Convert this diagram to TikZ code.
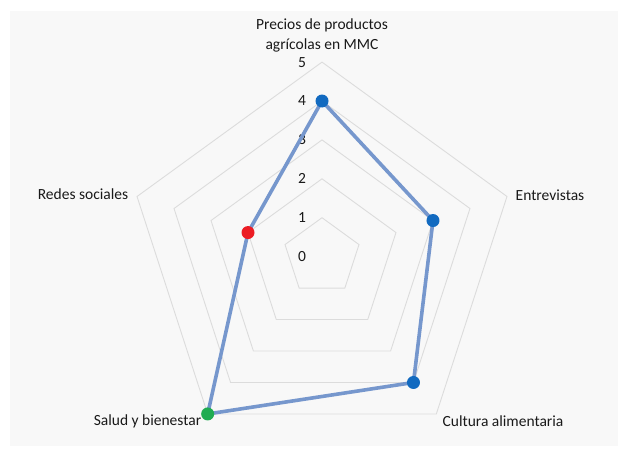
\documentclass[tikz,border=0pt]{standalone}
\usepackage{fontspec}
\setmainfont{Carlito}
\definecolor{gridgray}{RGB}{220,220,220}
\definecolor{seriesline}{RGB}{118,151,205}
\definecolor{markblue}{RGB}{18,106,192}
\definecolor{markred}{RGB}{236,28,36}
\definecolor{markgreen}{RGB}{32,172,82}
\definecolor{framegray}{RGB}{248,248,248}
\definecolor{labeltext}{RGB}{25,25,25}
\begin{document}
\begin{tikzpicture}[x=1pt,y=1pt,
  lbl/.style={font=\fontsize{15.5}{20}\selectfont, text=labeltext, inner sep=0pt},
  gridline/.style={draw=gridgray, line width=0.9pt, line join=miter},
  serieslink/.style={draw=seriesline, line width=3.6pt, line join=round},
  marker/.style={circle, fill=#1, minimum size=13pt, inner sep=0pt}]
\useasboundingbox (0,0) rectangle (623,-452);
\fill[white] (0,0) rectangle (623,-452);
\fill[framegray] (10,-11) rectangle (618,-446);
\begin{scope}[shift={(322,-256.6)}]
  % gridlines
  \foreach \k in {1,...,5}{
    \draw[gridline] (90:{\k*38.9pt}) -- (18:{\k*38.9pt}) -- (-54:{\k*38.9pt})
      -- (-126:{\k*38.9pt}) -- (162:{\k*38.9pt}) -- cycle;
  }
  % axis value labels
  \foreach \k in {0,...,5}{
    \node[lbl] (tick\k) at (-20,{\k*38.9}) {\k};
  }
  % data points
  \coordinate (vprecios) at (90:{4*38.9pt});
  \coordinate (ventrev) at (18:{3*38.9pt});
  \coordinate (vcultura) at (-54:{4*38.9pt});
  \coordinate (vsalud) at (-126:{5*38.9pt});
  \coordinate (vredes) at (162:{2*38.9pt});
  \draw[serieslink] (vprecios) -- (ventrev) -- (vcultura) -- (vsalud) -- (vredes) -- cycle;
  \node[marker=markblue] (mprecios) at (vprecios) {};
  \node[marker=markblue] (mentrev) at (ventrev) {};
  \node[marker=markblue] (mcultura) at (vcultura) {};
  \node[marker=markgreen] (msalud) at (vsalud) {};
  \node[marker=markred] (mredes) at (vredes) {};
\end{scope}
% category labels
\node[lbl, align=center] (lprecios) at (322,-35) {Precios de productos\\agrícolas en MMC};
\node[lbl, anchor=mid] (lentrev) at (550,-198) {Entrevistas};
\node[lbl, anchor=mid] (lredes) at (83,-197) {Redes sociales};
\node[lbl, anchor=mid] (lsalud) at (147.5,-423) {Salud y bienestar};
\node[lbl, anchor=mid] (lcultura) at (503,-424) {Cultura alimentaria};
\end{tikzpicture}
\end{document}
